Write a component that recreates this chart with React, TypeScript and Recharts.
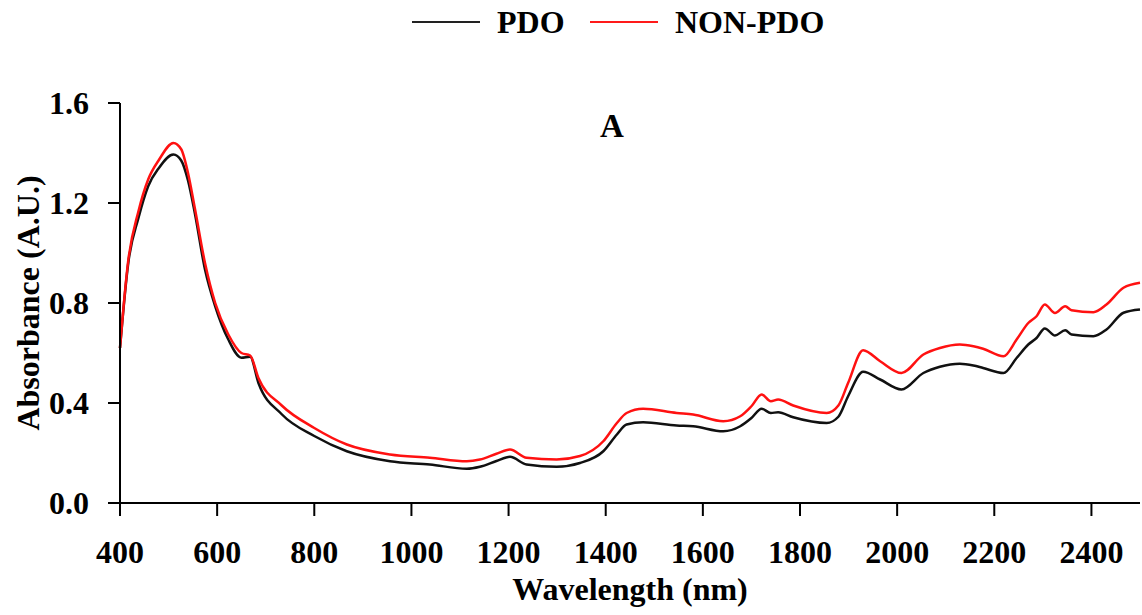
import React from 'react';
import { LineChart, Line, XAxis, YAxis, Legend, Label } from 'recharts';

// wavelengths (nm) and absorbance values
const wavelengths = [
  400, 417, 438, 458, 480, 510, 526, 540, 554, 575, 596, 623, 650, 668, 685, 733, 800, 867, 956, 1038,
  1114, 1141, 1175, 1203, 1237, 1299, 1347, 1395, 1423, 1443, 1477, 1546, 1580, 1642, 1677, 1700, 1721,
  1740, 1755, 1786, 1855, 1879, 1899, 1930, 1965, 2009, 2054, 2088, 2129, 2157, 2177, 2219, 2246, 2270,
  2287, 2304, 2325, 2346, 2359, 2404, 2431, 2466, 2500,
];
const pdo = [
  0.62, 0.96, 1.14, 1.267, 1.34, 1.394, 1.37, 1.29, 1.16, 0.934, 0.787, 0.654, 0.581, 0.585, 0.48, 0.355, 0.268, 0.207, 0.167, 0.154,
  0.137, 0.145, 0.168, 0.185, 0.154, 0.145, 0.16, 0.207, 0.274, 0.314, 0.323, 0.31, 0.307, 0.287, 0.307, 0.34, 0.377,
  0.36, 0.363, 0.343, 0.32, 0.345, 0.427, 0.525, 0.494, 0.454, 0.52, 0.545, 0.557, 0.55, 0.54, 0.52, 0.58, 0.634,
  0.66, 0.698, 0.67, 0.691, 0.674, 0.667, 0.694, 0.761, 0.774,
];
const nonPdo = [
  0.62, 0.97, 1.167, 1.294, 1.372, 1.44, 1.415, 1.32, 1.18, 0.96, 0.8, 0.674, 0.6, 0.59, 0.5, 0.39, 0.3, 0.234, 0.194, 0.181,
  0.167, 0.174, 0.197, 0.214, 0.181, 0.174, 0.188, 0.247, 0.32, 0.36, 0.377, 0.36, 0.354, 0.327, 0.347, 0.387, 0.434,
  0.407, 0.414, 0.39, 0.36, 0.39, 0.48, 0.611, 0.567, 0.52, 0.594, 0.62, 0.634, 0.627, 0.617, 0.587, 0.654, 0.72,
  0.747, 0.794, 0.76, 0.787, 0.771, 0.763, 0.794, 0.861, 0.881,
];
const xTicks = [400, 600, 800, 1000, 1200, 1400, 1600, 1800, 2000, 2200, 2400];
const yTicks = [0, 0.4, 0.8, 1.2, 1.6];

const data = wavelengths.map((w, i) => ({ wl: w, pdo: pdo[i], nonPdo: nonPdo[i] }));

const FONT = '"Liberation Serif", "Times New Roman", serif';
const tickStyle = { fill: '#000', fontFamily: FONT, fontWeight: 700, fontSize: 32 };

function LegendBox() {
  const txt: React.CSSProperties = { position: 'absolute', top: 2, fontFamily: FONT, fontWeight: 700, fontSize: 32, color: '#000', lineHeight: '40px' };
  return (
    <div style={{ position: 'relative', width: 1142, height: 45 }}>
      <div style={{ position: 'absolute', left: 412, top: 21, width: 68, height: 2, background: '#222' }} />
      <span style={{ ...txt, left: 497 }}>PDO</span>
      <div style={{ position: 'absolute', left: 590, top: 21, width: 68, height: 2, background: '#ff1a1a' }} />
      <span style={{ ...txt, left: 675 }}>NON-PDO</span>
    </div>
  );
}

export default function App() {
  return (
    <div style={{ position: 'absolute', left: 0, top: 0, background: '#fff' }}>
      <LineChart width={1142} height={615} data={data} margin={{ top: 58, right: 2, bottom: 0, left: 0 }}>
        <Legend verticalAlign="top" height={45} content={() => <LegendBox />} wrapperStyle={{ left: 0, top: 0, width: 1142 }} />
        <XAxis
          dataKey="wl"
          type="number"
          domain={[400, 2500]}
          ticks={xTicks}
          height={112}
          tickSize={13}
          tickMargin={24}
          tick={tickStyle}
          tickLine={{ stroke: '#000', strokeWidth: 2 }}
          axisLine={{ stroke: '#000', strokeWidth: 2 }}
        >
          <Label
            content={() => (
              <text x={630} y={600} textAnchor="middle" fontFamily={FONT} fontWeight={700} fontSize={32} fill="#000">
                Wavelength (nm)
              </text>
            )}
          />
        </XAxis>
        <YAxis
          type="number"
          domain={[0, 1.6]}
          ticks={yTicks}
          width={120}
          tickSize={12}
          tickMargin={19}
          tick={tickStyle}
          tickFormatter={(v: number) => v.toFixed(1)}
          tickLine={{ stroke: '#000', strokeWidth: 2 }}
          axisLine={{ stroke: '#000', strokeWidth: 2 }}
        >
          <Label
            content={() => (
              <g>
                <text
                  x={0}
                  y={0}
                  transform="translate(39 303) rotate(-90)"
                  textAnchor="middle"
                  fontFamily={FONT}
                  fontWeight={700}
                  fontSize={32}
                  fill="#000"
                >
                  Absorbance (A.U.)
                </text>
                <text x={612} y={137} textAnchor="middle" fontFamily={FONT} fontWeight={700} fontSize={33} fill="#000">
                  A
                </text>
              </g>
            )}
          />
        </YAxis>
        <Line type="monotone" dataKey="pdo" stroke="#111" strokeWidth={2.5} dot={false} isAnimationActive={false} />
        <Line type="monotone" dataKey="nonPdo" stroke="#ff1111" strokeWidth={2.5} dot={false} isAnimationActive={false} />
      </LineChart>
    </div>
  );
}
